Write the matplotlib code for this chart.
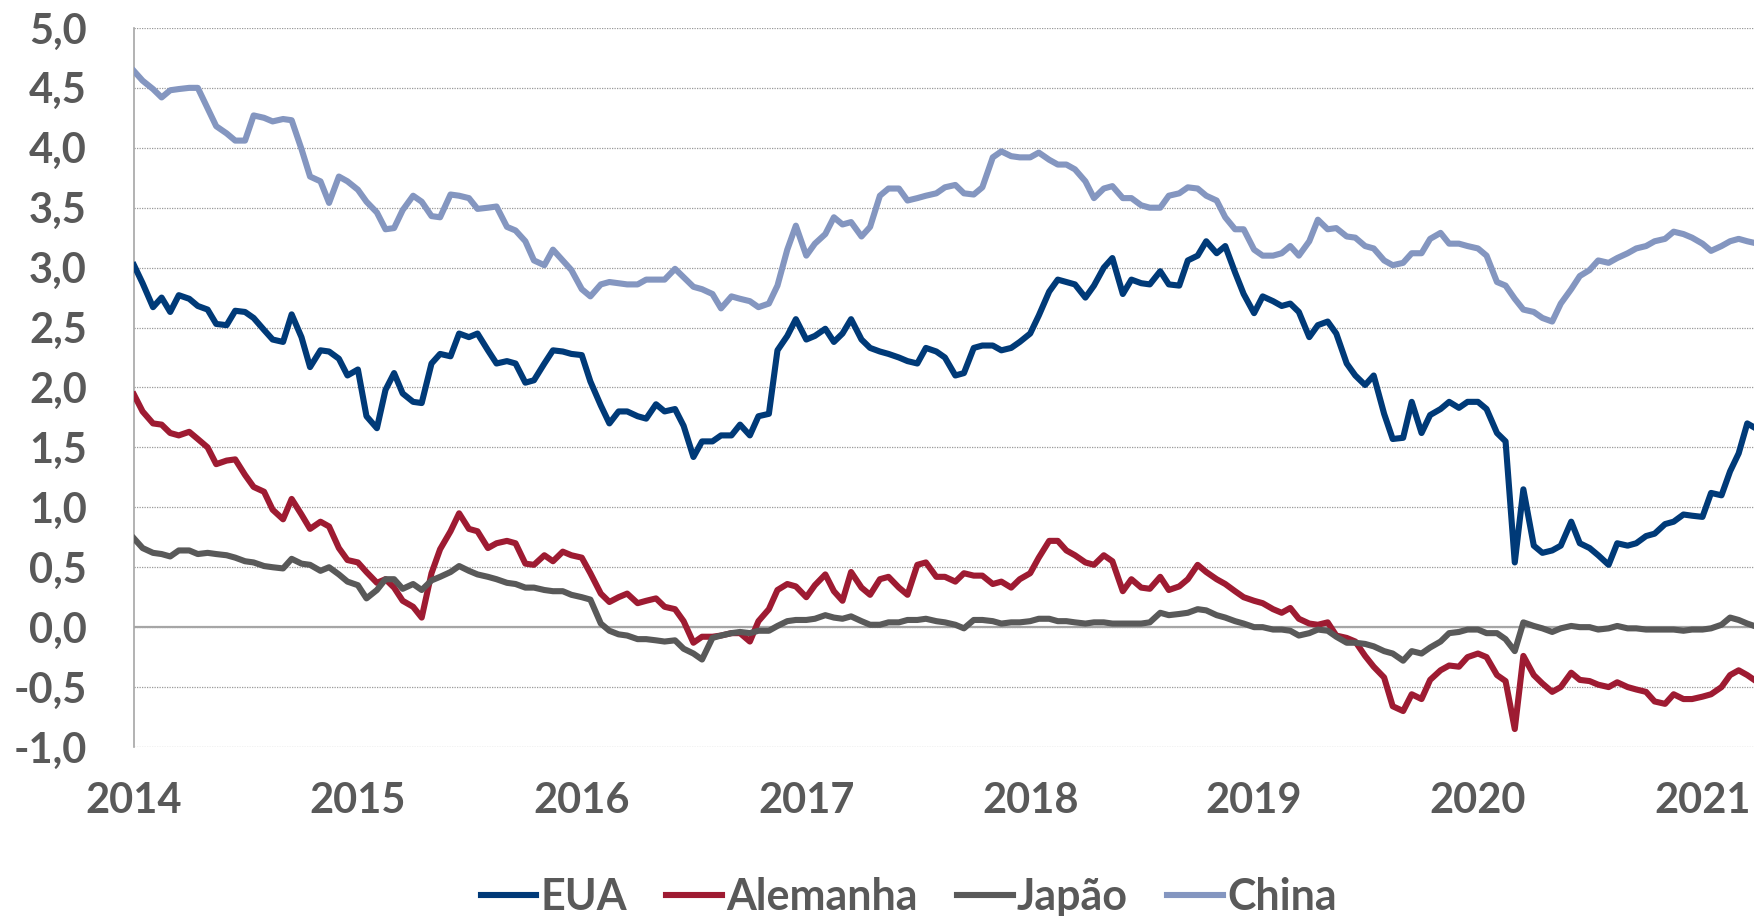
import pandas as pd
import matplotlib
matplotlib.use('Agg')
import matplotlib.pyplot as plt
import matplotlib.dates as mdates
from matplotlib.ticker import FuncFormatter, MultipleLocator

# semi-monthly readings (1st and 15th of each month), Jan 2014 - Apr 2021
dates = pd.date_range('2014-01-01', '2021-04-01', freq='SMS')

eua = [
    # 2014
    3.02, 2.87, 2.67, 2.75, 2.63, 2.77, 2.74, 2.68, 2.65, 2.53, 2.52, 2.64,
    2.63, 2.58, 2.48, 2.40, 2.38, 2.61, 2.42, 2.17, 2.31, 2.30, 2.24, 2.10,
    # 2015
    2.15, 1.76, 1.66, 1.98, 2.12, 1.95, 1.88, 1.87, 2.20, 2.28, 2.26, 2.45,
    2.42, 2.45, 2.31, 2.20, 2.22, 2.20, 2.04, 2.06, 2.20, 2.31, 2.30, 2.28,
    # 2016
    2.27, 2.05, 1.85, 1.70, 1.80, 1.80, 1.76, 1.74, 1.86, 1.80, 1.82, 1.68,
    1.42, 1.55, 1.55, 1.60, 1.60, 1.69, 1.60, 1.76, 1.78, 2.31, 2.43, 2.57,
    # 2017
    2.40, 2.43, 2.49, 2.38, 2.45, 2.57, 2.40, 2.33, 2.30, 2.28, 2.25, 2.22,
    2.20, 2.33, 2.30, 2.25, 2.10, 2.12, 2.33, 2.35, 2.35, 2.31, 2.33, 2.38,
    # 2018
    2.45, 2.60, 2.80, 2.90, 2.88, 2.86, 2.75, 2.85, 3.00, 3.08, 2.78, 2.90,
    2.87, 2.86, 2.97, 2.86, 2.85, 3.06, 3.10, 3.22, 3.12, 3.18, 2.96, 2.78,
    # 2019
    2.62, 2.76, 2.72, 2.68, 2.70, 2.63, 2.42, 2.52, 2.55, 2.45, 2.20, 2.10,
    2.02, 2.10, 1.78, 1.57, 1.58, 1.88, 1.62, 1.77, 1.82, 1.88, 1.83, 1.88,
    # 2020
    1.88, 1.82, 1.62, 1.55, 0.54, 1.15, 0.68, 0.62, 0.64, 0.68, 0.88, 0.70,
    0.66, 0.60, 0.52, 0.70, 0.68, 0.70, 0.76, 0.78, 0.86, 0.88, 0.94, 0.93,
    # 2021
    0.92, 1.12, 1.10, 1.30, 1.45, 1.70, 1.65,
]

alemanha = [
    # 2014
    1.94, 1.80, 1.70, 1.69, 1.62, 1.60, 1.63, 1.57, 1.50, 1.36, 1.39, 1.40,
    1.27, 1.17, 1.13, 0.98, 0.90, 1.07, 0.94, 0.82, 0.88, 0.84, 0.66, 0.56,
    # 2015
    0.54, 0.46, 0.37, 0.40, 0.33, 0.22, 0.17, 0.08, 0.45, 0.65, 0.80, 0.95,
    0.82, 0.80, 0.66, 0.70, 0.72, 0.70, 0.53, 0.52, 0.60, 0.55, 0.63, 0.60,
    # 2016
    0.58, 0.45, 0.28, 0.21, 0.25, 0.28, 0.20, 0.22, 0.24, 0.17, 0.15, 0.05,
    -0.13, -0.08, -0.08, -0.07, -0.05, -0.05, -0.12, 0.05, 0.15, 0.31, 0.36, 0.34,
    # 2017
    0.25, 0.35, 0.44, 0.30, 0.22, 0.46, 0.33, 0.27, 0.40, 0.42, 0.33, 0.27,
    0.52, 0.54, 0.42, 0.42, 0.38, 0.45, 0.43, 0.43, 0.36, 0.38, 0.33, 0.40,
    # 2018
    0.45, 0.58, 0.72, 0.72, 0.64, 0.60, 0.54, 0.52, 0.60, 0.55, 0.30, 0.40,
    0.33, 0.32, 0.42, 0.31, 0.34, 0.40, 0.52, 0.46, 0.40, 0.36, 0.30, 0.25,
    # 2019
    0.22, 0.20, 0.15, 0.12, 0.16, 0.07, 0.03, 0.02, 0.04, -0.07, -0.09, -0.12,
    -0.24, -0.33, -0.42, -0.66, -0.70, -0.56, -0.60, -0.44, -0.36, -0.32, -0.33, -0.25,
    # 2020
    -0.22, -0.25, -0.40, -0.45, -0.85, -0.24, -0.40, -0.47, -0.54, -0.50, -0.38, -0.44,
    -0.45, -0.48, -0.50, -0.46, -0.50, -0.52, -0.54, -0.62, -0.64, -0.56, -0.60, -0.60,
    # 2021
    -0.58, -0.56, -0.50, -0.40, -0.36, -0.40, -0.46,
]

japao = [
    # 2014
    0.74, 0.66, 0.62, 0.61, 0.59, 0.64, 0.64, 0.61, 0.62, 0.61, 0.60, 0.58,
    0.55, 0.54, 0.51, 0.50, 0.49, 0.57, 0.53, 0.52, 0.47, 0.50, 0.44, 0.38,
    # 2015
    0.35, 0.24, 0.31, 0.40, 0.40, 0.32, 0.36, 0.31, 0.39, 0.42, 0.46, 0.51,
    0.47, 0.44, 0.42, 0.40, 0.37, 0.36, 0.33, 0.33, 0.31, 0.30, 0.30, 0.27,
    # 2016
    0.25, 0.23, 0.03, -0.03, -0.06, -0.07, -0.10, -0.10, -0.11, -0.12, -0.11, -0.18,
    -0.22, -0.27, -0.09, -0.07, -0.05, -0.04, -0.05, -0.03, -0.03, 0.01, 0.05, 0.06,
    # 2017
    0.06, 0.07, 0.10, 0.08, 0.07, 0.09, 0.05, 0.02, 0.02, 0.04, 0.04, 0.06,
    0.06, 0.07, 0.05, 0.04, 0.02, -0.01, 0.06, 0.06, 0.05, 0.03, 0.04, 0.04,
    # 2018
    0.05, 0.07, 0.07, 0.05, 0.05, 0.04, 0.03, 0.04, 0.04, 0.03, 0.03, 0.03,
    0.03, 0.04, 0.12, 0.10, 0.11, 0.12, 0.15, 0.14, 0.10, 0.08, 0.05, 0.03,
    # 2019
    0.00, 0.00, -0.02, -0.02, -0.03, -0.07, -0.05, -0.02, -0.03, -0.08, -0.13, -0.13,
    -0.14, -0.16, -0.20, -0.22, -0.28, -0.20, -0.22, -0.17, -0.12, -0.05, -0.04, -0.02,
    # 2020
    -0.02, -0.05, -0.05, -0.10, -0.20, 0.04, 0.01, -0.01, -0.04, -0.01, 0.01, 0.00,
    0.00, -0.02, -0.01, 0.01, -0.01, -0.01, -0.02, -0.02, -0.02, -0.02, -0.03, -0.02,
    # 2021
    -0.02, -0.01, 0.02, 0.08, 0.06, 0.03, 0.00,
]

china = [
    # 2014
    4.64, 4.56, 4.49, 4.42, 4.48, 4.49, 4.50, 4.50, 4.33, 4.18, 4.12, 4.06,
    4.06, 4.27, 4.25, 4.22, 4.24, 4.23, 3.99, 3.76, 3.72, 3.54, 3.76, 3.72,
    # 2015
    3.65, 3.55, 3.46, 3.32, 3.33, 3.48, 3.60, 3.55, 3.43, 3.42, 3.61, 3.60,
    3.58, 3.49, 3.50, 3.51, 3.34, 3.31, 3.22, 3.06, 3.02, 3.15, 3.06, 2.98,
    # 2016
    2.82, 2.76, 2.86, 2.88, 2.87, 2.86, 2.86, 2.90, 2.90, 2.90, 2.99, 2.92,
    2.84, 2.82, 2.78, 2.66, 2.76, 2.74, 2.72, 2.67, 2.70, 2.85, 3.15, 3.35,
    # 2017
    3.10, 3.20, 3.28, 3.42, 3.36, 3.38, 3.26, 3.34, 3.60, 3.66, 3.66, 3.56,
    3.58, 3.60, 3.62, 3.67, 3.69, 3.62, 3.61, 3.67, 3.92, 3.97, 3.93, 3.92,
    # 2018
    3.92, 3.96, 3.90, 3.86, 3.86, 3.82, 3.72, 3.58, 3.66, 3.68, 3.58, 3.58,
    3.52, 3.50, 3.50, 3.60, 3.62, 3.67, 3.66, 3.60, 3.56, 3.42, 3.32, 3.32,
    # 2019
    3.15, 3.10, 3.10, 3.12, 3.18, 3.10, 3.22, 3.40, 3.32, 3.33, 3.26, 3.25,
    3.18, 3.16, 3.06, 3.02, 3.04, 3.12, 3.12, 3.24, 3.29, 3.20, 3.20, 3.18,
    # 2020
    3.16, 3.10, 2.88, 2.85, 2.74, 2.65, 2.63, 2.58, 2.55, 2.70, 2.82, 2.93,
    2.98, 3.06, 3.04, 3.08, 3.12, 3.16, 3.18, 3.22, 3.24, 3.30, 3.28, 3.25,
    # 2021
    3.20, 3.14, 3.18, 3.22, 3.24, 3.22, 3.20,
]

series = [('EUA', eua, '#003a78'),
          ('Alemanha', alemanha, '#9e1b32'),
          ('Japão', japao, '#595959'),
          ('China', china, '#8496c0')]

text_color = '#595959'
plt.rcParams['font.family'] = ['Lato', 'DejaVu Sans']
plt.rcParams['font.weight'] = 'bold'
plt.rcParams['font.size'] = 30

fig = plt.figure(figsize=(17.54, 9.16), dpi=100)
ax = fig.add_axes([0.0764, 0.1845, 1 - 0.0764, 0.785])

for name, values, color in series:
    ax.plot(dates, values, color=color, lw=4.4, label=name, zorder=3,
            solid_joinstyle='round')

ax.axhline(0, color='#a6a6a6', lw=1.6, zorder=2)

ax.set_ylim(-1.0, 5.0)
ax.set_xlim(pd.Timestamp('2014-01-01'), pd.Timestamp('2021-03-26'))
ax.yaxis.set_major_locator(MultipleLocator(0.5))
ax.yaxis.set_major_formatter(FuncFormatter(lambda v, p: f'{v:.1f}'.replace('.', ',')))
ax.xaxis.set_major_locator(mdates.YearLocator())
ax.xaxis.set_major_formatter(mdates.DateFormatter('%Y'))

ax.yaxis.grid(True, color='#9a9a9a', linestyle=(0, (1, 1)), linewidth=0.9)
ax.set_axisbelow(True)
for side in ['top', 'right', 'bottom']:
    ax.spines[side].set_visible(False)
ax.spines['left'].set_color('#a6a6a6')
ax.spines['left'].set_linewidth(1.2)

ax.tick_params(axis='both', length=0, colors=text_color, labelsize=30)
ax.tick_params(axis='y', pad=34)
ax.tick_params(axis='x', pad=25)
for lab in ax.get_xticklabels() + ax.get_yticklabels():
    lab.set_fontweight('bold')

fig.legend(loc='center', bbox_to_anchor=(0.518, 0.021), ncol=4, frameon=False,
           handlelength=1.3, handletextpad=0.1, columnspacing=0.9,
           borderpad=0, labelcolor=text_color, prop={'weight': 'bold', 'size': 31})

fig.savefig('out.png', dpi=100)
